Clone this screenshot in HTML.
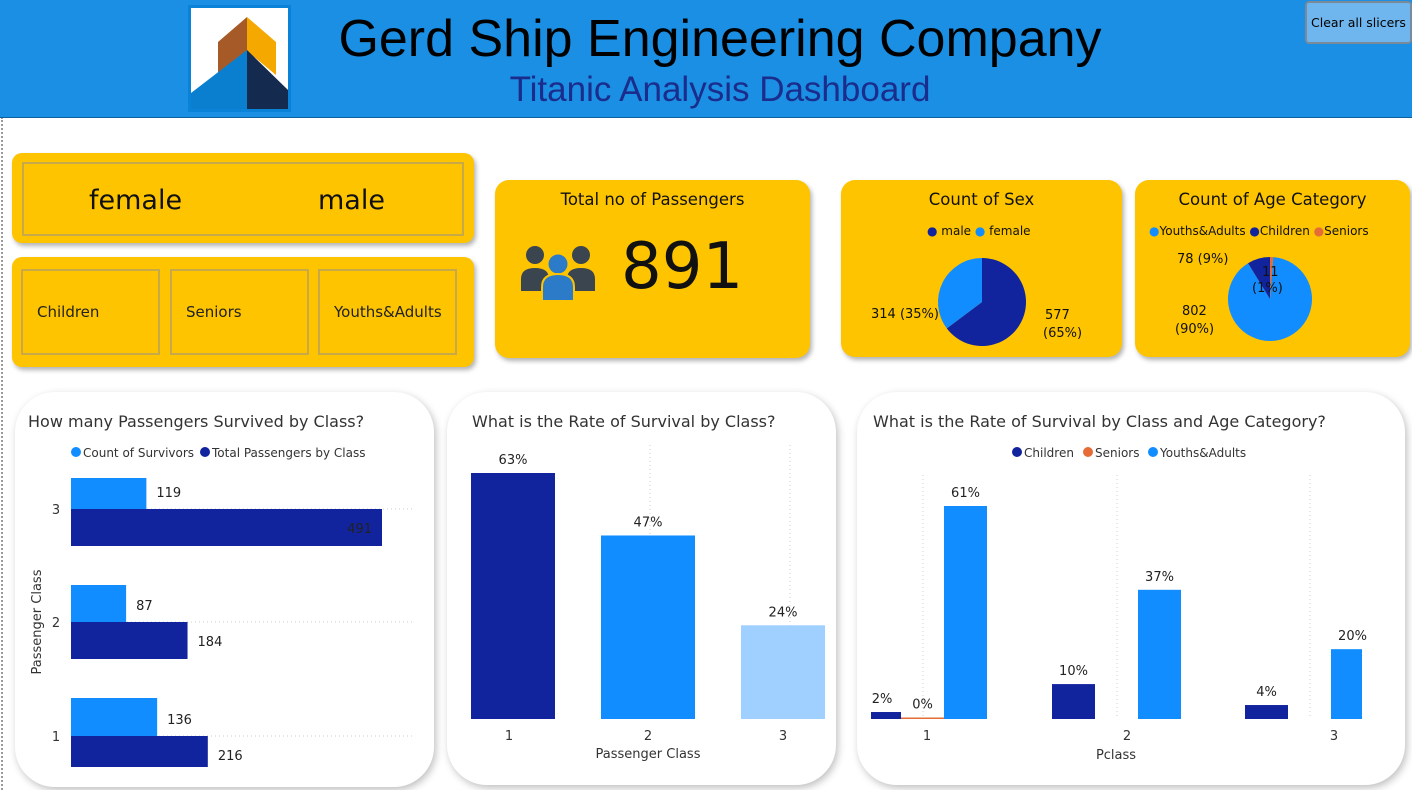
<!DOCTYPE html>
<html><head><meta charset="utf-8">
<style>
*{box-sizing:border-box;margin:0;padding:0}
body{width:1412px;height:790px;background:#fff;position:relative;overflow:hidden;font-family:"DejaVu Sans","Liberation Sans",sans-serif;color:#252423}
.abs{position:absolute}
.y{background:#fec400;border-radius:10px;box-shadow:2px 3px 5px rgba(0,0,0,.3)}
.w{background:#fff;border-radius:40px;box-shadow:2px 3px 8px rgba(0,0,0,.25)}
.sl{position:absolute;border:2px solid #c8a94a;display:flex;align-items:center;font-size:15px;color:#222}
</style></head><body>
<div class="abs" style="left:1px;top:117px;width:2px;height:673px;border-left:2px dotted #999"></div>
<div class="abs" style="left:0;top:0;width:1412px;height:118px;background:#1a8fe3;border-bottom:1px solid #0d5fa0"></div>
<svg class="abs" style="left:188px;top:5px" width="103" height="107" viewBox="0 0 103 107">
<rect x="0" y="0" width="103" height="107" fill="#0a82d8"/><rect x="3" y="3" width="97" height="101" fill="#fff"/>
<polygon points="30,37 59,12 59,46 30,70" fill="#a65a28"/><polygon points="59,12 88,37 88,70 59,46" fill="#f5a800"/>
<polygon points="3,88 59,45 59,104 3,104" fill="#0a7fcf"/><polygon points="59,45 100,85 100,104 59,104" fill="#142a4e"/>
</svg>
<div class="abs" style="left:290px;top:9px;width:860px;text-align:center;font-size:52px;color:#000;font-family:'Liberation Sans',sans-serif">Gerd Ship Engineering Company</div>
<div class="abs" style="left:420px;top:70px;width:600px;text-align:center;font-size:35px;color:#1a2c8c;font-family:'Liberation Sans',sans-serif">Titanic Analysis Dashboard</div>
<div class="abs" style="left:1305px;top:1px;width:107px;height:43px;background:#6fb6ee;border:2px solid #7a8a99;border-radius:4px;font-size:12.5px;color:#000;display:flex;align-items:center;justify-content:center">Clear all slicers</div>

<div class="abs y" style="left:12px;top:153px;width:462px;height:90px">
 <div class="abs" style="left:10px;top:9px;width:442px;height:74px;border:2px solid #c8a94a"></div>
 <div class="abs" style="left:77px;top:32px;font-size:27px;color:#111">female</div>
 <div class="abs" style="left:306px;top:32px;font-size:27px;color:#111">male</div>
</div>
<div class="abs y" style="left:12px;top:257px;width:462px;height:110px">
 <div class="sl" style="left:9px;top:12px;width:139px;height:86px;padding-left:14px">Children</div>
 <div class="sl" style="left:158px;top:12px;width:139px;height:86px;padding-left:14px">Seniors</div>
 <div class="sl" style="left:306px;top:12px;width:139px;height:86px;padding-left:14px">Youths&amp;Adults</div>
</div>

<div class="abs y" style="left:495px;top:180px;width:315px;height:178px;border-radius:14px">
 <div class="abs" style="left:0;top:10px;width:100%;text-align:center;font-size:16.5px;color:#111">Total no of Passengers</div>
 <svg class="abs" style="left:25px;top:63px" width="76" height="58" viewBox="0 0 76 58">
  <circle cx="15" cy="12" r="9" fill="#3b4550"/><path d="M1 48 V36 Q1 25 15 25 Q29 25 29 36 V48Z" fill="#3b4550"/>
  <circle cx="61" cy="12" r="9" fill="#3b4550"/><path d="M47 48 V36 Q47 25 61 25 Q75 25 75 36 V48Z" fill="#3b4550"/>
  <circle cx="38" cy="21" r="11" fill="#fec400"/><circle cx="38" cy="21" r="9.5" fill="#2b7bc8"/>
  <path d="M22 58 V44 Q22 31 38 31 Q54 31 54 44 V58Z" fill="#2b7bc8" stroke="#fec400" stroke-width="2"/>
 </svg>
 <div class="abs" style="left:126px;top:50px;font-size:64px;color:#111">891</div>
</div>

<div class="abs y" style="left:841px;top:180px;width:281px;height:177px;border-radius:14px">
 <div class="abs" style="left:0;top:10px;width:100%;text-align:center;font-size:16.5px;color:#111">Count of Sex</div>
 <div class="abs" style="left:86px;top:44px;font-size:12px;color:#111"><span style="color:#12239e">●</span> male <span style="color:#118dff">●</span> female</div>
 <svg id="sexPie" class="abs" style="left:0;top:0" width="281" height="177"></svg>
</div>
<div class="abs y" style="left:1135px;top:180px;width:275px;height:177px;border-radius:14px">
 <div class="abs" style="left:0;top:10px;width:100%;text-align:center;font-size:16.5px;color:#111">Count of Age Category</div>
 <div class="abs" style="left:14px;top:44px;font-size:12px;color:#111;white-space:nowrap"><span style="color:#118dff">●</span>Youths&amp;Adults <span style="color:#12239e">●</span>Children <span style="color:#e66c37">●</span>Seniors</div>
 <svg id="agePie" class="abs" style="left:0;top:0" width="275" height="177"></svg>
</div>

<div class="abs w" style="left:15px;top:392px;width:419px;height:395px"></div>
<div class="abs w" style="left:447px;top:392px;width:389px;height:393px"></div>
<div class="abs w" style="left:857px;top:392px;width:548px;height:393px"></div>
<svg id="charts" class="abs" style="left:0;top:0" width="1412" height="790" font-family="DejaVu Sans, Liberation Sans, sans-serif"></svg>

<script>
const NS='http://www.w3.org/2000/svg';
function mk(p,t,a,txt){const e=document.createElementNS(NS,t);for(const k in a)e.setAttribute(k,a[k]);if(txt!==undefined)e.textContent=txt;p.appendChild(e);return e;}
// pies
const sexLabels=['male','female'];const sexValues=[577,314];
const ageLabels=['Seniors','Youths&Adults','Children'];const ageValues=[11,802,78];
function pie(svg,cx,cy,r,vals,cols,name){const tot=vals.reduce((a,b)=>a+b,0);let a0=0;
 vals.forEach((v,i)=>{const a1=a0+v/tot*2*Math.PI;const x0=cx+r*Math.sin(a0),y0=cy-r*Math.cos(a0),x1=cx+r*Math.sin(a1),y1=cy-r*Math.cos(a1);
  const p=mk(svg,'path',{d:`M${cx},${cy}L${x0},${y0}A${r},${r} 0 ${a1-a0>Math.PI?1:0} 1 ${x1},${y1}Z`,fill:cols[i]});
  
  
  a0=a1;});}
const sp=document.getElementById('sexPie');
pie(sp,141,122,44,sexValues,['#12239e','#118dff'],'sex');
const pct=(v,a)=>Math.round(v/a.reduce((x,y)=>x+y,0)*100)+'%';
mk(sp,'text',{x:30,y:138,'font-size':13,fill:'#111'},sexValues[1]+' ('+pct(sexValues[1],sexValues)+')');
mk(sp,'text',{x:204,y:139,'font-size':13,fill:'#111'},String(sexValues[0]));
mk(sp,'text',{x:202,y:157,'font-size':13,fill:'#111'},'('+pct(sexValues[0],sexValues)+')');
const ap=document.getElementById('agePie');
pie(ap,135,119,42,ageValues,['#e66c37','#118dff','#12239e'],'age');
mk(ap,'text',{x:42,y:83,'font-size':13,fill:'#111'},ageValues[2]+' ('+pct(ageValues[2],ageValues)+')');
mk(ap,'text',{x:127,y:96,'font-size':13,fill:'#111'},String(ageValues[0]));
mk(ap,'text',{x:117,y:112,'font-size':13,fill:'#111'},'('+pct(ageValues[0],ageValues)+')');
mk(ap,'text',{x:47,y:135,'font-size':13,fill:'#111'},String(ageValues[1]));
mk(ap,'text',{x:40,y:153,'font-size':13,fill:'#111'},'('+pct(ageValues[1],ageValues)+')');

const S=document.getElementById('charts');
// chart 1
const c1Classes=['3','2','1'];const c1Survivors=[119,87,136];const c1Totals=[491,184,216];
mk(S,'text',{x:28,y:427,'font-size':16,fill:'#333'},'How many Passengers Survived by Class?');
mk(S,'circle',{cx:76,cy:452,r:5,fill:'#118dff'});mk(S,'text',{x:83,y:457,'font-size':12,fill:'#333'},'Count of Survivors');
mk(S,'circle',{cx:205,cy:452,r:5,fill:'#12239e'});mk(S,'text',{x:212,y:457,'font-size':12,fill:'#333'},'Total Passengers by Class');
const x1=v=>71+v*311/491;const rowY=[509,622,736];
c1Classes.forEach((c,i)=>{const y=rowY[i];
 mk(S,'line',{x1:71,x2:415,y1:y,y2:y,stroke:'#ccc','stroke-dasharray':'1 3'});
 mk(S,'text',{x:56,y:y+5,'font-size':13,'text-anchor':'middle',fill:'#333'},c);
 const sh=i==2?38:(i==1?37:31);
 let r=mk(S,'rect',{x:71,y:y-sh,width:x1(c1Survivors[i])-71,height:sh,fill:'#118dff'});
 
 
 mk(S,'text',{x:x1(c1Survivors[i])+10,y:y-12,'font-size':13,fill:'#222'},String(c1Survivors[i]));
 const th=i==2?31:37;
 r=mk(S,'rect',{x:71,y:y,width:x1(c1Totals[i])-71,height:th,fill:'#12239e'});
 
 
 const inside=c1Totals[i]>400;
 mk(S,'text',{x:inside?x1(c1Totals[i])-10:x1(c1Totals[i])+10,y:y+24,'font-size':13,fill:'#222','text-anchor':inside?'end':'start'},String(c1Totals[i]));
});
mk(S,'text',{x:0,y:0,'font-size':13,fill:'#333',transform:'translate(41,622) rotate(-90)','text-anchor':'middle'},'Passenger Class');
// chart 2
const c2Classes=['1','2','3'];const c2Rates=[63,47,24];const c2Colors=['#12239e','#118dff','#a0d0ff'];
mk(S,'text',{x:472,y:427,'font-size':16,fill:'#333'},'What is the Rate of Survival by Class?');
const y2=v=>719-v*246/63;const cx2=[513,648,783];
[650,790].forEach(x=>mk(S,'line',{x1:x,x2:x,y1:445,y2:719,stroke:'#ccc','stroke-dasharray':'1 3'}));
c2Classes.forEach((c,i)=>{const r=mk(S,'rect',{x:cx2[i]-(i==1?47:42),y:y2(c2Rates[i]),width:i==1?94:84,height:719-y2(c2Rates[i]),fill:c2Colors[i]});
 
 
 mk(S,'text',{x:cx2[i],y:y2(c2Rates[i])-9,'font-size':13,'text-anchor':'middle',fill:'#222'},c2Rates[i]+'%');
 mk(S,'text',{x:cx2[i]-(i==0?4:0),y:740,'font-size':13,'text-anchor':'middle',fill:'#333'},c);});
mk(S,'text',{x:648,y:758,'font-size':13,'text-anchor':'middle',fill:'#333'},'Passenger Class');
// chart 3
const c3Classes=['1','2','3'];const c3Children=[2,10,4];const c3Seniors=[0,0,0];const c3Youths=[61,37,20];
mk(S,'text',{x:873,y:427,'font-size':16,fill:'#333'},'What is the Rate of Survival by Class and Age Category?');
mk(S,'circle',{cx:1017,cy:452,r:5,fill:'#12239e'});mk(S,'text',{x:1024,y:457,'font-size':12,fill:'#333'},'Children');
mk(S,'circle',{cx:1088,cy:452,r:5,fill:'#e66c37'});mk(S,'text',{x:1095,y:457,'font-size':12,fill:'#333'},'Seniors');
mk(S,'circle',{cx:1153,cy:452,r:5,fill:'#118dff'});mk(S,'text',{x:1160,y:457,'font-size':12,fill:'#333'},'Youths&Adults');
const cx3=[923,1117,1310];const y3=v=>719-v*213/61;
mk(S,'clipPath',{id:'c3'});mk(S.lastChild,'rect',{x:871,y:440,width:491,height:300});
const g=mk(S,'g',{'clip-path':'url(#c3)'});
cx3.forEach(x=>mk(S,'line',{x1:x,x2:x,y1:475,y2:719,stroke:'#ccc','stroke-dasharray':'1 3'}));
const series=[[c3Children,'#12239e',-65,'children'],[c3Seniors,'#e66c37',-22,'seniors'],[c3Youths,'#118dff',21,'youths']];
c3Classes.forEach((c,i)=>{series.forEach(([arr,col,off,nm])=>{
 if(nm==='seniors'&&i>0)return;
 const v=arr[i];const h=Math.max(719-y3(v),1.5);
 const r=mk(g,'rect',{x:cx3[i]+off,y:719-h,width:43,height:h,fill:col});
 
 
 let lx=cx3[i]+off+21.5;if(lx<880)lx=882;
 mk(S,'text',{x:lx,y:719-h-9,'font-size':13,'text-anchor':'middle',fill:'#222'},v+'%');});
 mk(S,'text',{x:cx3[i]+(i==0?4:i==1?10:24),y:740,'font-size':13,'text-anchor':'middle',fill:'#333'},c);});
mk(S,'text',{x:1116,y:759,'font-size':13,'text-anchor':'middle',fill:'#333'},'Pclass');
</script>
</body></html>
